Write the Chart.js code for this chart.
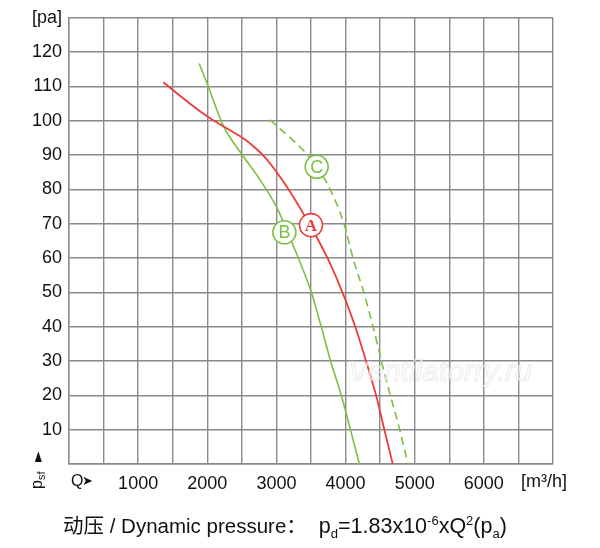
<!DOCTYPE html>
<html>
<head>
<meta charset="utf-8">
<script src="https://cdn.jsdelivr.net/npm/chart.js@4"></script>
<style>
  body { margin: 0; background: #fff; }
  #wrap { position: relative; width: 600px; height: 548px; }
  #formula {
    position: absolute; left: 63px; top: 508px;
    font-family: "Liberation Sans", Arial, "Noto Sans CJK SC", sans-serif;
    font-size: 20.5px; line-height: 26px; color: #111; white-space: nowrap;
  }
  #formula .f { font-size: 21.5px; margin-left: 12px; }
  #formula sub, #formula sup { font-size: 13px; }
</style>
</head>
<body>
<div id="wrap">
  <canvas id="fanChart"></canvas>
  <div id="formula">动压 / Dynamic pressure：<span class="f">p<sub>d</sub>=1.83x10<sup>-6</sup>xQ<sup>2</sup>(p<sub>a</sub>)</span></div>
</div>
<script>
// curve A (red, solid)
const flowA = [1363, 1724, 1999, 2254, 2504, 2688, 2832, 3001, 3169, 3362, 3579, 3772, 3955, 4140, 4296, 4441, 4561, 4682];
const pressA = [111.2, 105.4, 101.3, 98.1, 95.1, 92.2, 89.4, 85.1, 80.2, 73.9, 66.2, 58.6, 50, 40, 30, 20, 10, 0];
// curve B (green, solid)
const flowB = [1883, 1999, 2231, 2504, 2736, 3001, 3241, 3507, 3651, 3786, 3940, 4073, 4200];
const pressB = [116.7, 110.8, 98.6, 90.1, 83.6, 74.9, 63.7, 49.9, 39.8, 29.8, 19.9, 9.8, 0];
// curve C (green, dashed)
const flowC = [2905, 3435, 3579, 3747, 3974, 4108, 4263, 4398, 4518, 4648, 4783, 4903];
const pressC = [100.3, 90.4, 86.7, 81.2, 70.2, 60, 50, 40, 30, 20, 10, 0];
// curve markers
const markerNames = ['A', 'B', 'C'];
const markerFlow = [3500, 3115, 3582];
const markerPress = [69.6, 67.5, 86.6];

const RED = '#ea3d3a';
const GREEN = '#7cc043';
const GRID = '#8a8a8a';

const pairs = (xs, ys) => xs.map((x, i) => ({ x: x, y: ys[i] }));

const extraText = {
  id: 'extraText',
  afterDatasetsDraw(chart) {
    const ctx = chart.ctx;
    const meta = chart.getDatasetMeta(3);
    ctx.save();
    ctx.textAlign = 'center';
    ctx.textBaseline = 'middle';
    meta.data.forEach((pt, i) => {
      if (markerNames[i] === 'A') {
        ctx.fillStyle = RED;
        ctx.font = 'bold 17px "Liberation Serif", serif';
        ctx.fillText('A', pt.x, pt.y + 1);
      } else {
        ctx.fillStyle = GREEN;
        ctx.font = '18px "Liberation Sans", sans-serif';
        ctx.fillText(markerNames[i], pt.x, pt.y + 1);
      }
    });
    // watermark
    ctx.font = 'italic 30px "Liberation Sans", sans-serif';
    ctx.lineWidth = 1;
    ctx.strokeStyle = 'rgba(170,170,170,0.25)';
    ctx.fillStyle = 'rgba(255,255,255,0.6)';
    ctx.fillText('Ventilatorry.ru', 440, 373);
    ctx.strokeText('Ventilatorry.ru', 440, 373);
    ctx.restore();
  },
  afterDraw(chart) {
    const ctx = chart.ctx;
    const xs = chart.scales.x;
    const yb = chart.chartArea.bottom + 18;
    ctx.save();
    ctx.fillStyle = '#111';
    ctx.textBaseline = 'middle';
    ctx.textAlign = 'left';
    ctx.font = '16px "Liberation Sans", sans-serif';
    ctx.fillText('Q', 71, yb);
    ctx.font = '13px "DejaVu Sans", sans-serif';
    ctx.fillText('➤', 82, yb);
    ctx.textAlign = 'center';
    ctx.font = '18px "Liberation Sans", sans-serif';
    ctx.fillText('[m³/h]', xs.getPixelForValue(7000) - 9, yb);
    // rotated p_sf with arrow
    ctx.translate(38, 478);
    ctx.rotate(-Math.PI / 2);
    ctx.textAlign = 'left';
    ctx.font = '16px "Liberation Sans", sans-serif';
    ctx.fillText('p', -11, 0);
    ctx.font = '11px "Liberation Sans", sans-serif';
    ctx.fillText('sf', -2, 4);
    ctx.font = '14px "DejaVu Sans", sans-serif';
    ctx.fillText('►', 16, 0);
    ctx.restore();
  }
};

new Chart(document.getElementById('fanChart'), {
  type: 'scatter',
  data: {
    datasets: [
      { data: pairs(flowA, pressA), showLine: true, borderColor: RED, borderWidth: 1.8,
        pointRadius: 0, cubicInterpolationMode: 'monotone', order: 1 },
      { data: pairs(flowB, pressB), showLine: true, borderColor: GREEN, borderWidth: 1.6,
        pointRadius: 0, cubicInterpolationMode: 'monotone', order: 1 },
      { data: pairs(flowC, pressC), showLine: true, borderColor: GREEN, borderWidth: 1.6,
        borderDash: [8, 5], pointRadius: 0, cubicInterpolationMode: 'monotone', order: 1 },
      { data: pairs(markerFlow, markerPress), showLine: false, pointRadius: 11.5,
        pointBorderWidth: 1.6, pointBackgroundColor: '#fff',
        pointBorderColor: [RED, GREEN, GREEN], order: 0 }
    ]
  },
  options: {
    responsive: true,
    maintainAspectRatio: false,
    animation: false,
    layout: { padding: { left: 0, top: 16, right: 47, bottom: 48 } },
    plugins: { legend: { display: false }, tooltip: { enabled: false } },
    scales: {
      x: {
        type: 'linear', min: 0, max: 7000,
        afterFit: s => { s.height = 36; },
        grid: { color: GRID, lineWidth: 1.4, drawTicks: false },
        border: { color: GRID, width: 1.4 },
        ticks: {
          stepSize: 500, autoSkip: false, maxRotation: 0, padding: 9, color: '#111',
          font: { family: '"Liberation Sans", Arial, sans-serif', size: 18 },
          callback: v => (v >= 1000 && v <= 6000 && v % 1000 === 0) ? String(v) : ''
        }
      },
      y: {
        min: 0, max: 130,
        afterFit: s => { s.width = 69; },
        grid: { color: GRID, lineWidth: 1.4, drawTicks: false },
        border: { color: GRID, width: 1.4 },
        ticks: {
          stepSize: 10, autoSkip: false, padding: 7, color: '#111',
          font: { family: '"Liberation Sans", Arial, sans-serif', size: 18 },
          callback: v => v === 130 ? '[pa]' : (v === 0 ? '' : String(v))
        }
      }
    }
  },
  plugins: [extraText]
});
</script>
</body>
</html>
